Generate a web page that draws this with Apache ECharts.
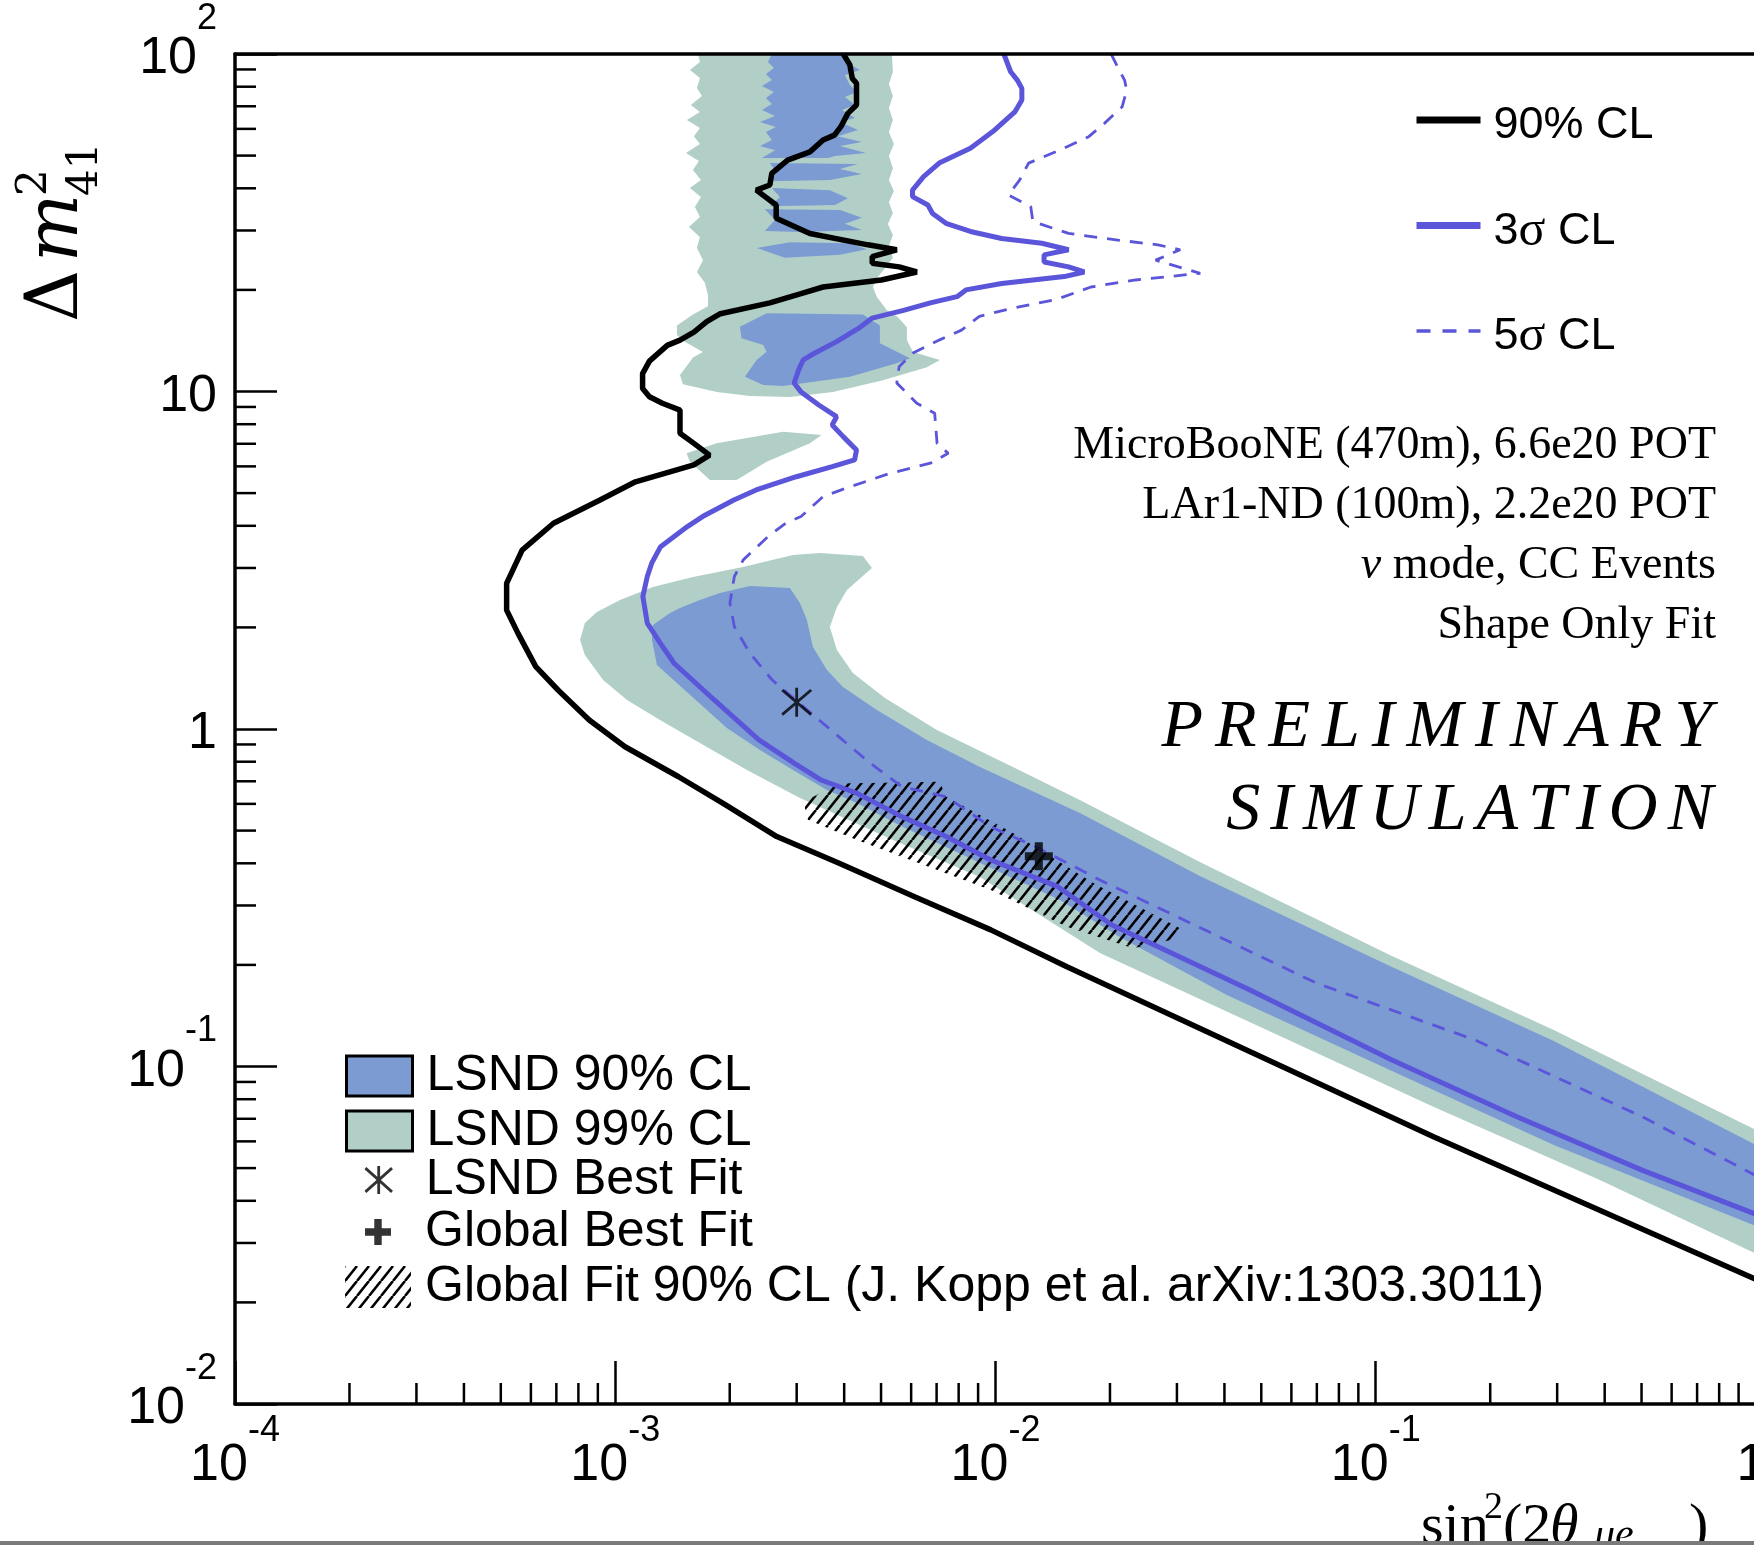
<!DOCTYPE html>
<html><head><meta charset="utf-8">
<script src="https://cdn.jsdelivr.net/npm/echarts@6/dist/echarts.min.js"></script>
<style>html,body{margin:0;padding:0;background:#fff;overflow:hidden}#c{width:1754px;height:1545px}</style>
</head><body><div id="c"></div>
<script>
// ---------- tick labels ----------
const xTickLabels = [['10','-4'],['10','-3'],['10','-2'],['10','-1'],['1','']];
const yTickLabels = [['10','-2'],['10','-1'],['1',''],['10',''],['10','2']];
const xMinorTicks = [2e-4,3e-4,4e-4,5e-4,6e-4,7e-4,8e-4,9e-4,2e-3,3e-3,4e-3,5e-3,6e-3,7e-3,8e-3,9e-3,0.02,0.03,0.04,0.05,0.06,0.07,0.08,0.09,0.2,0.3,0.4,0.5,0.6,0.7,0.8,0.9];
const yMinorTicks = [0.02,0.03,0.04,0.05,0.06,0.07,0.08,0.09,0.2,0.3,0.4,0.5,0.6,0.7,0.8,0.9,2,3,4,5,6,7,8,9,20,30,40,50,60,70,80,90];

// ---------- sensitivity curves [sin^2(2theta), dm2] ----------
const cl90 = [[3.98e-3,100],[4.14e-3,92.8],[4.20e-3,84.7],[4.31e-3,81.9],[4.31e-3,70.6],[4.09e-3,66.7],[3.92e-3,60.9],[3.77e-3,57.5],[3.52e-3,55.6],[3.25e-3,51.3],[2.84e-3,48.5],[2.58e-3,44.3],[2.55e-3,40.9],[2.35e-3,39.5],[2.65e-3,35.7],[2.65e-3,32.6],[3.25e-3,29.4],[4.62e-3,27.2],[5.50e-3,26.3],[4.74e-3,25.1],[4.74e-3,24.0],[5.58e-3,23.4],[6.21e-3,22.6],[5.01e-3,21.4],[3.52e-3,20.4],[3.08e-3,19.5],[2.55e-3,18.3],[1.89e-3,17.0],[1.74e-3,16.1],[1.61e-3,15.0],[1.48e-3,14.2],[1.37e-3,13.7],[1.23e-3,12.3],[1.18e-3,11.3],[1.18e-3,10.2],[1.23e-3,9.65],[1.33e-3,9.23],[1.48e-3,8.81],[1.48e-3,7.52],[1.61e-3,7.02],[1.77e-3,6.48],[1.61e-3,6.06],[1.13e-3,5.40],[9.12e-4,4.77],[6.88e-4,4.07],[5.69e-4,3.39],[5.18e-4,2.70],[5.18e-4,2.25],[5.55e-4,1.92],[6.18e-4,1.53],[7.07e-4,1.305],[8.54e-4,1.063],[1.061e-3,0.886],[1.467e-3,0.722],[1.922e-3,0.602],[2.659e-3,0.480],[3.881e-3,0.400],[6.147e-3,0.318],[9.72e-3,0.254],[0.01541,0.1976],[0.1419,0.0619],[1,0.0234]];
const cl3s = [[0.01052,100],[0.01096,88.6],[0.01141,83.7],[0.01173,79.1],[0.01173,73.1],[0.01126,67.5],[9.84e-3,58.9],[8.59e-3,52.6],[7.11e-3,47.5],[6.47e-3,43.3],[6.05e-3,39.5],[6.05e-3,37.8],[6.64e-3,35.7],[6.83e-3,33.7],[7.41e-3,31.5],[8.59e-3,29.8],[0.01038,28.4],[0.01324,27.5],[0.01557,26.3],[0.01342,25.4],[0.01342,24.2],[0.01557,23.4],[0.01712,22.6],[0.01516,21.9],[0.01038,20.9],[8.36e-3,20.0],[7.92e-3,19.1],[6.74e-3,18.3],[5.73e-3,17.4],[4.74e-3,16.5],[4.37e-3,15.4],[3.82e-3,14.05],[3.34e-3,12.98],[3.12e-3,12.4],[3.035e-3,11.58],[2.954e-3,10.6],[3.076e-3,9.99],[3.43e-3,9.12],[3.82e-3,8.42],[3.72e-3,7.96],[3.977e-3,7.35],[4.31e-3,6.71],[4.26e-3,6.27],[3.72e-3,5.99],[2.994e-3,5.59],[2.347e-3,5.11],[2.051e-3,4.77],[1.697e-3,4.26],[1.548e-3,3.98],[1.316e-3,3.47],[1.247e-3,3.10],[1.214e-3,2.83],[1.182e-3,2.47],[1.214e-3,2.06],[1.316e-3,1.79],[1.428e-3,1.566],[1.821e-3,1.219],[2.386e-3,0.928],[2.961e-3,0.791],[3.48e-3,0.706],[4.32e-3,0.645],[5.67e-3,0.550],[7.42e-3,0.480],[9.72e-3,0.409],[0.01459,0.341],[0.02024,0.2626],[0.0467,0.1685],[0.1103,0.1045],[0.235,0.0710],[0.5015,0.0493],[1,0.0365]];
const cl5s = [[0.02014,100],[0.02126,88.6],[0.02185,83.7],[0.02213,78.2],[0.02154,69.8],[0.01934,62.3],[0.01759,56.9],[0.01475,51.9],[0.01222,47.5],[0.01157,42.3],[0.01081,38.2],[0.01238,35.3],[0.01254,31.9],[0.01557,29.4],[0.02098,28.1],[0.02673,27.2],[0.03061,26.3],[0.02637,24.5],[0.03455,22.4],[0.02335,21.4],[0.01783,20.4],[0.01436,18.7],[0.01096,17.6],[9.07e-3,16.7],[8.14e-3,15.2],[7.11e-3,14.2],[6.05e-3,12.98],[5.58e-3,11.85],[5.50e-3,10.6],[6.21e-3,9.23],[6.92e-3,8.62],[7.02e-3,7.02],[7.51e-3,6.56],[6.74e-3,6.13],[5.28e-3,5.72],[4.14e-3,5.22],[3.52e-3,4.88],[3.08e-3,4.26],[2.805e-3,4.07],[2.519e-3,3.71],[2.171e-3,3.17],[2.057e-3,2.83],[2.002e-3,2.36],[2.057e-3,2.01],[2.261e-3,1.676],[2.587e-3,1.397],[3.126e-3,1.164],[3.778e-3,0.971],[4.69e-3,0.791],[5.67e-3,0.675],[7.42e-3,0.630],[9.72e-3,0.513],[0.01275,0.448],[0.01882,0.357],[0.07,0.1764],[0.1826,0.1198],[0.5015,0.0710],[1,0.0475]];

// ---------- LSND allowed regions (polygons) ----------
const lsnd99Upper = [[1.650e-3,100],[1.670e-3,94.7],[1.572e-3,89.7],[1.670e-3,84.9],[1.640e-3,79.3],[1.690e-3,75.1],[1.581e-3,70.6],[1.670e-3,67.3],[1.543e-3,63.7],[1.670e-3,60.4],[1.610e-3,57.1],[1.670e-3,54.1],[1.534e-3,50.9],[1.660e-3,48.2],[1.601e-3,45.3],[1.680e-3,42.3],[1.572e-3,40.1],[1.680e-3,37.7],[1.620e-3,35.2],[1.670e-3,32.9],[1.562e-3,30.7],[1.670e-3,28.7],[1.640e-3,26.6],[1.701e-3,24.5],[1.640e-3,22.6],[1.721e-3,21.0],[1.753e-3,19.3],[1.753e-3,17.9],[1.601e-3,16.9],[1.453e-3,15.7],[1.453e-3,14.7],[1.516e-3,14.1],[1.701e-3,13.1],[1.601e-3,12.6],[1.480e-3,11.2],[1.507e-3,10.5],[1.851e-3,9.97],[2.261e-3,9.70],[2.880e-3,9.63],[3.736e-3,9.97],[5.058e-3,10.8],[6.600e-3,11.8],[7.142e-3,12.4],[6.065e-3,13.1],[5.848e-3,14.2],[5.848e-3,15.5],[5.539e-3,16.6],[5.181e-3,17.4],[4.876e-3,19.05],[4.760e-3,20.4],[4.876e-3,21.7],[5.120e-3,23.2],[5.373e-3,24.9],[5.245e-3,27.0],[5.373e-3,29.1],[5.214e-3,31.35],[5.373e-3,33.8],[5.245e-3,36.4],[5.405e-3,39.3],[5.245e-3,42.3],[5.373e-3,45.9],[5.245e-3,49.9],[5.405e-3,54.1],[5.245e-3,58.7],[5.373e-3,63.7],[5.245e-3,69.2],[5.373e-3,75.1],[5.245e-3,81.5],[5.373e-3,88.4],[5.340e-3,100]];
const lsnd99Island = [[1.540e-3,6.56],[1.848e-3,7.02],[2.766e-3,7.60],[3.487e-3,7.43],[3.251e-3,7.02],[2.501e-3,6.19],[2.193e-3,5.66],[2.085e-3,5.47],[1.774e-3,5.47],[1.572e-3,6.19]];
const lsnd99Lower = [[3.452e-3,3.323],[4.480e-3,3.256],[4.732e-3,3.0],[4.067e-3,2.581],[3.828e-3,2.299],[3.668e-3,2.005],[3.828e-3,1.714],[4.217e-3,1.465],[5.120e-3,1.236],[7.015e-3,0.993],[0.01111,0.772],[0.01667,0.616],[0.03447,0.4036],[0.1089,0.2140],[0.2939,0.1283],[1,0.0649],[1,0.0279],[0.3884,0.0461],[0.1422,0.0759],[0.05171,0.1283],[0.01882,0.2169],[9.10e-3,0.3643],[5.373e-3,0.469],[3.060e-3,0.6246],[2.220e-3,0.756],[1.670e-3,0.909],[1.311e-3,1.063],[1.074e-3,1.219],[9.29e-4,1.397],[8.32e-4,1.657],[8.08e-4,1.835],[8.32e-4,2.061],[8.95e-4,2.222],[1.029e-3,2.411],[1.256e-3,2.634],[1.601e-3,2.821],[2.167e-3,3.02],[2.933e-3,3.279]];

const lsnd90Top = [[2.582e-3,100],[3.970e-3,100],[4.043e-3,94.7],[4.399e-3,89.7],[4.018e-3,86.7],[4.141e-3,80.9],[4.320e-3,77.2],[4.018e-3,74.6],[4.268e-3,70.6],[3.946e-3,68.3],[4.268e-3,64.6],[3.899e-3,62.9],[4.346e-3,59.5],[3.852e-3,57.1],[4.453e-3,54.9],[3.899e-3,53.4],[4.562e-3,50.9],[3.783e-3,49.9],[3.626e-3,49.2],[2.431e-3,49.2],[2.630e-3,51.9],[2.402e-3,53.4],[2.582e-3,55.6],[2.490e-3,58.7],[2.646e-3,60.8],[2.402e-3,62.9],[2.630e-3,65.5],[2.431e-3,68.3],[2.582e-3,71.1],[2.490e-3,74.1],[2.614e-3,77.2],[2.431e-3,80.4],[2.582e-3,83.7],[2.490e-3,87.25],[2.614e-3,90.9],[2.521e-3,94.7]];
const lsnd90StripeA = [[2.551e-3,47.5],[4.346e-3,47.2],[3.899e-3,45.6],[4.453e-3,44.1],[3.668e-3,42.3],[2.521e-3,42.0],[2.646e-3,44.7]];
const lsnd90StripeB = [[2.582e-3,40.1],[3.668e-3,39.5],[4.092e-3,37.4],[3.783e-3,35.7],[2.551e-3,35.4],[2.711e-3,37.7]];
const lsnd90StripeC = [[2.475e-3,34.7],[3.899e-3,34.5],[4.453e-3,32.7],[4.018e-3,31.4],[4.453e-3,30.1],[3.060e-3,29.7],[2.475e-3,29.9],[2.630e-3,32.2]];
const lsnd90StripeD = [[2.358e-3,26.6],[2.880e-3,27.7],[4.141e-3,27.5],[4.590e-3,26.4],[3.899e-3,25.4],[2.794e-3,24.9]];
const lsnd90Blob = [[2.127e-3,15.56],[2.505e-3,17.05],[4.480e-3,16.9],[4.966e-3,15.7],[4.966e-3,13.9],[5.955e-3,12.55],[5.494e-3,12.12],[4.141e-3,11.06],[2.766e-3,10.38],[2.450e-3,10.45],[2.193e-3,11.06],[2.354e-3,12.4],[2.501e-3,13.12],[2.450e-3,13.73],[2.149e-3,14.38]];
const lsnd90Lower = [[1.256e-3,2.033],[1.393e-3,2.207],[1.480e-3,2.283],[1.670e-3,2.411],[1.885e-3,2.529],[2.261e-3,2.653],[2.880e-3,2.617],[3.060e-3,2.362],[3.192e-3,2.104],[3.310e-3,1.750],[3.604e-3,1.495],[3.970e-3,1.331],[4.876e-3,1.138],[6.600e-3,0.928],[9.10e-3,0.772],[0.01667,0.564],[0.03447,0.3667],[0.1089,0.1986],[0.2939,0.1191],[1,0.0585],[1,0.0337],[0.2939,0.0585],[0.1089,0.0976],[0.04059,0.1629],[0.02099,0.2436],[0.01477,0.3114],[9.72e-3,0.3875],[5.640e-3,0.516],[4.320e-3,0.6035],[3.604e-3,0.6597],[2.933e-3,0.756],[2.402e-3,0.8666],[1.966e-3,1.007],[1.543e-3,1.287],[1.287e-3,1.548],[1.249e-3,1.835]];

const globalFit90 = [[3.126e-3,0.609],[3.881e-3,0.690],[7.13e-3,0.698],[7.42e-3,0.630],[0.01114,0.491],[0.01812,0.349],[0.0311,0.254],[0.0289,0.237],[0.02303,0.224],[0.01541,0.2596],[9.72e-3,0.3334],[5.67e-3,0.418],[4.32e-3,0.469],[3.211e-3,0.538]];

const lsndBestFit = [[0.003, 1.2]];
const globalBestFit = [[0.013, 0.42]];

// ---------- styles ----------
const TEAL = '#b1cfc7', BLUEF = '#7b9bd2', BLUEL = '#5b55da';
const SANS = 'Liberation Sans', SERIF = 'Liberation Serif';
const ASTER = 'path://M0,-10L0,10M-9.5,-8.5L9.5,8.5M-9.5,8.5L9.5,-8.5';
const CROSS = 'path://M-4,-14L4,-14L4,-4L14,-4L14,4L4,4L4,14L-4,14L-4,4L-14,4L-14,-4L-4,-4Z';

const pc = document.createElement('canvas');
pc.width = 12; pc.height = 15;
const g = pc.getContext('2d');
g.strokeStyle = '#000'; g.lineWidth = 2.6;
for (let k = -1; k <= 1; k++) { g.beginPath(); g.moveTo(k * 12, 15); g.lineTo(k * 12 + 12, 0); g.stroke(); }
const HATCH = { image: pc, repeat: 'repeat' };

function polySeries(name, polys, fill, z) {
  return {
    type: 'custom', name: name, coordinateSystem: 'cartesian2d', z: z, silent: true,
    itemStyle: { color: fill },
    data: polys.map((p, i) => [1e-3, 1, i]),
    encode: { x: 0, y: 1 },
    renderItem: function (params, api) {
      const pts = polys[api.value(2)].map(p => api.coord(p));
      return { type: 'polygon', shape: { points: pts }, style: { fill: fill, stroke: null, lineWidth: 0 } };
    }
  };
}

const xRich = {
  b: { fontSize: 52, fontFamily: SANS, color: '#000', lineHeight: 60 },
  e: { fontSize: 36, fontFamily: SANS, color: '#000', lineHeight: 40, padding: [0, 0, 70, 0] }
};
const yRich = {
  b: { fontSize: 52, fontFamily: SANS, color: '#000', lineHeight: 60, padding: [10, 0, 0, 0] },
  e: { fontSize: 36, fontFamily: SANS, color: '#000', lineHeight: 40, padding: [0, 0, 70, 0] }
};

const chart = echarts.init(document.getElementById('c'), null, { width: 1754, height: 1545 });
const legendText = { fontSize: 50, fontFamily: SANS, color: '#000', lineHeight: 40, padding: [0, 0, 0, 9] };
const lineLegendHide = { color: 'rgba(0,0,0,0)', opacity: 0, borderWidth: 0 };

chart.setOption({
  animation: false,
  backgroundColor: '#fff',
  grid: { left: 235, top: 54, width: 1521, height: 1350, show: false, containLabel: false, outerBoundsMode: 'none' },
  xAxis: [{
    type: 'log', logBase: 10, min: 1e-4, max: 1, z: 10,
    axisLine: { show: true, lineStyle: { color: '#000', width: 3.5 } },
    axisTick: { show: true, inside: true, length: 43, lineStyle: { color: '#000', width: 2.5 } },
    splitLine: { show: false }, minorTick: { show: false },
    axisLabel: {
      margin: 32, showMinLabel: true, showMaxLabel: true, hideOverlap: false, rich: xRich,
      formatter: v => { const t = xTickLabels[Math.round(Math.log10(v)) + 4]; return '{b|' + t[0] + '}{e|' + (t[1] || ' ') + '}'; }
    }
  }, {
    type: 'log', logBase: 10, min: 1e-4, max: 1, position: 'top', z: 10,
    axisLine: { show: true, lineStyle: { color: '#000', width: 3.5 } },
    axisTick: { show: false }, axisLabel: { show: false }, splitLine: { show: false }
  }],
  yAxis: {
    type: 'log', logBase: 10, min: 0.01, max: 100, z: 10,
    axisLine: { show: true, lineStyle: { color: '#000', width: 3.5 } },
    axisTick: { show: true, inside: true, length: 42, lineStyle: { color: '#000', width: 2.5 } },
    splitLine: { show: false }, minorTick: { show: false },
    axisLabel: {
      margin: 18, showMinLabel: true, showMaxLabel: true, hideOverlap: false, rich: yRich,
      formatter: v => { const t = yTickLabels[Math.round(Math.log10(v)) + 2]; return t[1] ? '{b|' + t[0] + '}{e|' + t[1] + '}' : '{b|' + t[0] + '}'; }
    }
  },
  legend: [
    {
      left: 1413, top: 89, orient: 'vertical', padding: 0, itemGap: 43.5, itemWidth: 64, itemHeight: 14, selectedMode: false,
      textStyle: { fontSize: 45, fontFamily: SANS, color: '#000', lineHeight: 50, padding: [12, 0, 0, 8],
        rich: { g: { fontFamily: SERIF, fontSize: 50, color: '#000' } } },
      formatter: n => n.replace('σ', '{g|σ}'),
      data: [
        { name: '90% CL', itemStyle: lineLegendHide, lineStyle: { width: 7, color: '#000' } },
        { name: '3σ CL', itemStyle: lineLegendHide, lineStyle: { width: 7, color: BLUEL } },
        { name: '5σ CL', itemStyle: lineLegendHide, lineStyle: { width: 3.5, color: BLUEL, type: [14, 12] } }
      ]
    },
    {
      left: 345, top: 1051, orient: 'vertical', padding: 0, itemWidth: 66, itemHeight: 40, selectedMode: false,
      textStyle: legendText,
      data: [{ name: 'LSND 90% CL', icon: 'rect', itemStyle: { color: BLUEF, borderColor: '#000', borderWidth: 3 } }]
    },
    {
      left: 345, top: 1106, orient: 'vertical', padding: 0, itemWidth: 66, itemHeight: 40, selectedMode: false,
      textStyle: legendText,
      data: [{ name: 'LSND 99% CL', icon: 'rect', itemStyle: { color: TEAL, borderColor: '#000', borderWidth: 3 } }]
    },
    {
      left: 364, top: 1155, orient: 'vertical', padding: 0, itemWidth: 66, itemHeight: 28, selectedMode: false,
      textStyle: legendText,
      data: [{ name: 'LSND Best Fit', icon: ASTER, itemStyle: { color: 'rgba(0,0,0,0)', borderColor: '#000', borderWidth: 2.8 } }]
    },
    {
      left: 365, top: 1207, orient: 'vertical', padding: 0, itemWidth: 66, itemHeight: 26, selectedMode: false,
      textStyle: legendText,
      data: [{ name: 'Global Best Fit', icon: CROSS, itemStyle: { color: '#000', borderWidth: 0 } }]
    },
    {
      left: 345, top: 1262, orient: 'vertical', padding: 0, itemWidth: 66, itemHeight: 42, selectedMode: false,
      textStyle: legendText,
      data: [{ name: 'Global Fit 90% CL (J. Kopp et al. arXiv:1303.3011)', icon: 'rect', itemStyle: { color: HATCH, borderWidth: 0 } }]
    }
  ],
  series: [
    polySeries('LSND 99% CL', [lsnd99Upper, lsnd99Island, lsnd99Lower], TEAL, 1),
    polySeries('LSND 90% CL', [lsnd90Top, lsnd90StripeA, lsnd90StripeB, lsnd90StripeC, lsnd90StripeD, lsnd90Blob, lsnd90Lower], BLUEF, 1),
    polySeries('Global Fit 90% CL (J. Kopp et al. arXiv:1303.3011)', [globalFit90], HATCH, 2),
    { type: 'line', name: '90% CL', data: cl90, symbol: 'none', showSymbol: false, z: 3, silent: true,
      lineStyle: { color: '#000', width: 5.5 }, itemStyle: { color: '#000' } },
    { type: 'line', name: '3σ CL', data: cl3s, symbol: 'none', showSymbol: false, z: 3, silent: true,
      lineStyle: { color: BLUEL, width: 5 }, itemStyle: { color: BLUEL } },
    { type: 'line', name: '5σ CL', data: cl5s, symbol: 'none', showSymbol: false, z: 3, silent: true,
      lineStyle: { color: BLUEL, width: 2.8, type: [13, 10] }, itemStyle: { color: BLUEL } },
    { type: 'scatter', name: 'LSND Best Fit', data: lsndBestFit, symbol: ASTER, symbolSize: 29, z: 4, silent: true,
      itemStyle: { color: 'rgba(0,0,0,0)', borderColor: '#000', borderWidth: 2.8 } },
    { type: 'scatter', name: 'Global Best Fit', data: globalBestFit, symbol: CROSS, symbolSize: 28, z: 4, silent: true,
      itemStyle: { color: '#000' } },
    { type: 'custom', name: 'xminor', coordinateSystem: 'cartesian2d', z: 10, silent: true,
      data: xMinorTicks.map(v => [v, 0.01]), encode: { x: 0, y: 1 },
      renderItem: (p, api) => { const c = api.coord([api.value(0), api.value(1)]);
        return { type: 'line', shape: { x1: c[0], y1: c[1], x2: c[0], y2: c[1] - 21 }, style: { stroke: '#000', lineWidth: 2.5 } }; } },
    { type: 'custom', name: 'yminor', coordinateSystem: 'cartesian2d', z: 10, silent: true,
      data: yMinorTicks.map(v => [1e-4, v]), encode: { x: 0, y: 1 },
      renderItem: (p, api) => { const c = api.coord([api.value(0), api.value(1)]);
        return { type: 'line', shape: { x1: c[0], y1: c[1], x2: c[0] + 21, y2: c[1] }, style: { stroke: '#000', lineWidth: 2.5 } }; } }
  ],
  graphic: [
    // annotation block
    { type: 'text', x: 1716, y: 446, style: { text: 'MicroBooNE (470m), 6.6e20 POT', font: '46px "Liberation Serif"', fill: '#000', align: 'right', verticalAlign: 'middle' } },
    { type: 'text', x: 1716, y: 506, style: { text: 'LAr1-ND (100m), 2.2e20 POT', font: '46px "Liberation Serif"', fill: '#000', align: 'right', verticalAlign: 'middle' } },
    { type: 'text', x: 1716, y: 566, style: { text: '{i|ν} mode, CC Events', font: '46px "Liberation Serif"', fill: '#000', align: 'right', verticalAlign: 'middle',
        rich: { i: { font: 'italic 46px "Liberation Serif"', fill: '#000' } } } },
    { type: 'text', x: 1716, y: 626, style: { text: 'Shape Only Fit', font: '46px "Liberation Serif"', fill: '#000', align: 'right', verticalAlign: 'middle' } },
    { type: 'text', x: 1718, y: 728, style: { text: 'PRELIMINARY'.split('').map(c => '{l|' + c + '}').join(''), align: 'right', verticalAlign: 'middle',
        rich: { l: { font: 'italic 68px "Liberation Serif"', fill: '#000', padding: [0, 6, 0, 6] } } } },
    { type: 'text', x: 1718, y: 811, style: { text: 'SIMULATION'.split('').map(c => '{l|' + c + '}').join(''), align: 'right', verticalAlign: 'middle',
        rich: { l: { font: 'italic 68px "Liberation Serif"', fill: '#000', padding: [0, 5, 0, 5] } } } },
    // y axis title
    { type: 'group', x: 82, y: 322, rotation: Math.PI / 2, children: [
      { type: 'text', x: 0, y: -24, style: { text: 'Δ', font: '72px "DejaVu Serif"', fill: '#000', verticalAlign: 'middle' } },
      { type: 'text', x: 60, y: -24, style: { text: 'm', font: 'italic 72px "DejaVu Serif"', fill: '#000', verticalAlign: 'middle' } },
      { type: 'text', x: 126, y: -47, style: { text: '2', font: '42px "DejaVu Serif"', fill: '#000', verticalAlign: 'middle' } },
      { type: 'text', x: 126, y: 4, style: { text: '41', font: '42px "DejaVu Serif"', fill: '#000', verticalAlign: 'middle' } }
    ] },
    // x axis title
    { type: 'text', x: 1421, y: 1528, style: { text: 'sin', font: '58px "Liberation Serif"', fill: '#000', verticalAlign: 'middle' } },
    { type: 'text', x: 1484, y: 1508, style: { text: '2', font: '38px "Liberation Serif"', fill: '#000', verticalAlign: 'middle' } },
    { type: 'text', x: 1503, y: 1528, style: { text: '(2', font: '58px "Liberation Serif"', fill: '#000', verticalAlign: 'middle' } },
    { type: 'text', x: 1550, y: 1528, style: { text: 'θ', font: 'italic 58px "Liberation Serif"', fill: '#000', verticalAlign: 'middle' } },
    { type: 'text', x: 1594, y: 1536, style: { text: 'μe', font: 'italic 42px "Liberation Serif"', fill: '#000', verticalAlign: 'middle' } },
    { type: 'text', x: 1689, y: 1528, style: { text: ')', font: '58px "Liberation Serif"', fill: '#000', verticalAlign: 'middle' } },
    { type: 'rect', x: 0, y: 1541, z: 100, shape: { width: 1754, height: 4 }, style: { fill: '#7a7a7a' } }
  ]
});
</script></body></html>
